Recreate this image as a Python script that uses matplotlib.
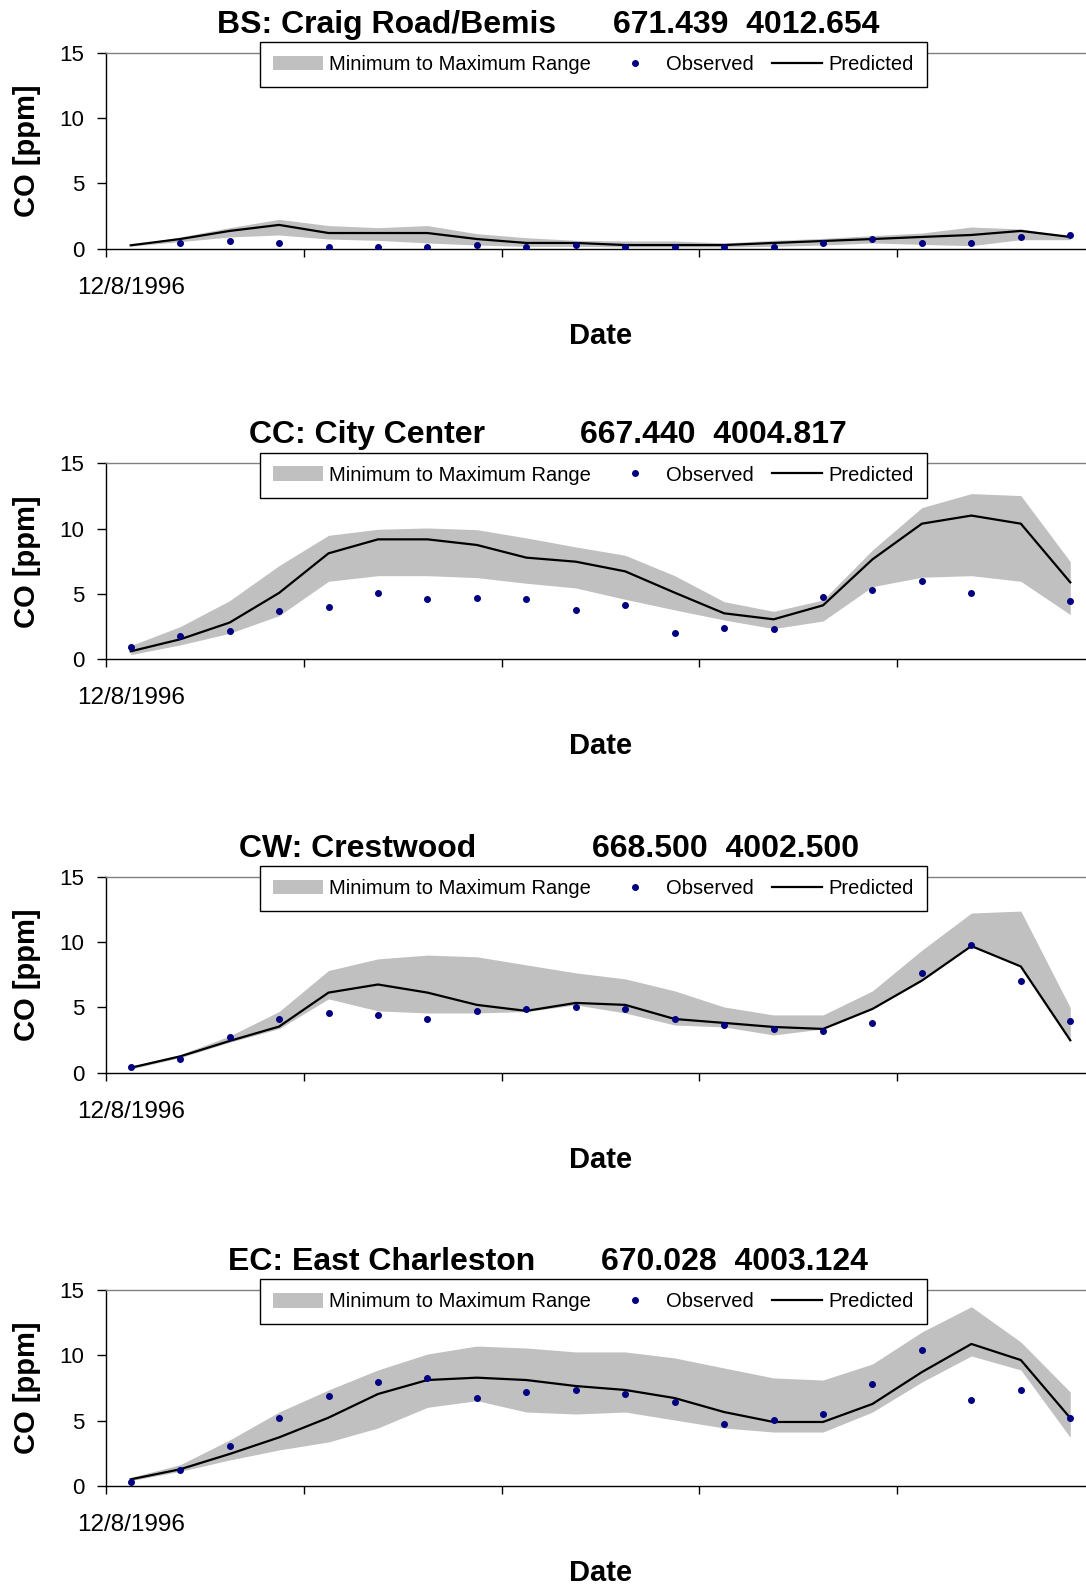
import numpy as np
import matplotlib
matplotlib.use("Agg")
import matplotlib.pyplot as plt
from matplotlib.patches import Patch
from matplotlib.lines import Line2D

plt.rcParams['font.family'] = ['Liberation Sans', 'DejaVu Sans']

nan = np.nan

stations = ['BS: Craig Road/Bemis', 'CC: City Center', 'CW: Crestwood', 'EC: East Charleston']
utm = ['671.439  4012.654', '667.440  4004.817', '668.500  4002.500', '670.028  4003.124']
start_date = '12/8/1996'

# daily CO, ppm (20 days per station)
obs_bs = [nan, 0.44, 0.59, 0.44, 0.13, 0.13, 0.13, 0.28, 0.13, 0.28,
          0.13, 0.13, 0.13, 0.13, 0.44, 0.74, 0.44, 0.44, 0.90, 1.05]
pred_bs = [0.26, 0.74, 1.36, 1.82, 1.20, 1.20, 1.20, 0.74, 0.44, 0.44,
           0.28, 0.28, 0.28, 0.44, 0.59, 0.74, 0.90, 1.05, 1.36, 0.90]
max_bs = [0.26, 0.90, 1.61, 2.25, 1.77, 1.61, 1.77, 1.15, 0.84, 0.64,
          0.59, 0.59, 0.44, 0.64, 0.79, 1.00, 1.20, 1.66, 1.51, 0.95]
min_bs = [0.20, 0.54, 0.90, 1.05, 0.74, 0.64, 0.44, 0.28, 0.18, 0.18,
          0.13, 0.13, 0.13, 0.18, 0.28, 0.44, 0.33, 0.23, 0.69, 0.69]

obs_cc = [0.92, 1.81, 2.14, 3.67, 3.98, 5.05, 4.59, 4.72, 4.59, 3.80,
          4.13, 1.99, 2.42, 2.30, 4.74, 5.33, 5.97, 5.05, nan, 4.44]
pred_cc = [0.61, 1.53, 2.81, 5.08, 8.11, 9.18, 9.18, 8.75, 7.78, 7.47,
           6.73, 5.10, 3.52, 3.06, 4.13, 7.65, 10.38, 11.00, 10.38, 5.89]
max_cc = [1.05, 2.50, 4.49, 7.17, 9.49, 9.95, 10.05, 9.92, 9.29, 8.60,
          7.96, 6.40, 4.41, 3.67, 4.54, 8.37, 11.61, 12.68, 12.53, 7.47]
min_cc = [0.36, 1.10, 1.99, 3.34, 5.97, 6.40, 6.40, 6.25, 5.82, 5.46,
          4.59, 3.78, 3.01, 2.35, 2.93, 5.56, 6.28, 6.40, 5.97, 3.42]

obs_cw = [0.43, 1.05, 2.71, 4.11, 4.57, 4.42, 4.11, 4.73, 4.88, 5.03,
          4.88, 4.11, 3.65, 3.35, 3.19, 3.81, 7.64, 9.79, 7.03, 3.96]
pred_cw = [0.38, 1.25, 2.43, 3.53, 6.13, 6.75, 6.13, 5.19, 4.73, 5.34,
           5.19, 4.11, 3.81, 3.50, 3.35, 4.88, 7.05, 9.69, 8.13, 2.48]
max_cw = [0.49, 1.38, 2.81, 4.68, 7.82, 8.71, 9.00, 8.87, 8.25, 7.64,
          7.18, 6.26, 5.03, 4.42, 4.42, 6.26, 9.38, 12.22, 12.37, 4.98]
min_cw = [0.28, 1.15, 2.33, 3.37, 5.65, 4.73, 4.57, 4.57, 4.68, 5.19,
          4.57, 3.65, 3.50, 2.89, 3.35, 4.88, 7.05, 9.69, 8.13, 2.48]

obs_ec = [0.33, 1.25, 3.06, 5.20, 6.89, 7.96, 8.29, 6.73, 7.19, 7.35,
          7.04, 6.43, 4.74, 5.05, 5.54, 7.81, 10.41, 6.58, 7.35, 5.20]
pred_ec = [0.51, 1.28, 2.45, 3.72, 5.23, 7.04, 8.11, 8.29, 8.11, 7.65,
           7.35, 6.73, 5.66, 4.90, 4.90, 6.28, 8.72, 10.87, 9.64, 5.20]
max_ec = [0.66, 1.63, 3.52, 5.66, 7.35, 8.88, 10.10, 10.71, 10.56, 10.26,
          10.26, 9.80, 9.03, 8.27, 8.11, 9.34, 11.79, 13.72, 11.02, 7.19]
min_ec = [0.41, 1.12, 1.99, 2.76, 3.37, 4.44, 6.02, 6.53, 5.66, 5.51,
          5.66, 5.05, 4.44, 4.13, 4.13, 5.66, 7.96, 9.95, 8.88, 3.72]

observed = [obs_bs, obs_cc, obs_cw, obs_ec]
predicted = [pred_bs, pred_cc, pred_cw, pred_ec]
upper = [max_bs, max_cc, max_cw, max_ec]
lower = [min_bs, min_cc, min_cw, min_ec]

W, H = 1086, 1587
fig = plt.figure(figsize=(W / 100, H / 100), dpi=100)

# pixel layout of each panel (top of plot area)
tops = [52.7, 463.3, 876.7, 1290.0]
ax_left, ax_w, ax_h = 106, 989, 196
name_x = [217, 249, 239, 228.5]
utm_x = [613, 580, 592, 601]

for k in range(4):
    ax = fig.add_axes([ax_left / W, 1 - (tops[k] + ax_h) / H, ax_w / W, ax_h / H])
    x = np.arange(len(predicted[k]))

    ax.fill_between(x, lower[k], upper[k], color='#C0C0C0', lw=0, zorder=1)
    ax.plot(x, predicted[k], color='black', lw=1.6, zorder=2)
    ax.plot(x, observed[k], ls='none', marker='o', ms=4, color='#000080', zorder=3)

    ax.set_xlim(-0.5, 19.5)
    ax.set_ylim(0, 15)
    ax.set_yticks([0, 5, 10, 15])
    ax.set_xticks([-0.5, 3.5, 7.5, 11.5, 15.5, 19.5])
    ax.set_xticklabels([])
    ax.tick_params(axis='y', direction='out', length=6.5, width=1, pad=9, labelsize=16)
    ax.tick_params(axis='x', direction='out', length=6, width=1)
    for s in ['left', 'bottom']:
        ax.spines[s].set_color('black')
        ax.spines[s].set_linewidth(1)
    ax.spines['top'].set_color('#808080')
    ax.spines['top'].set_linewidth(1)
    ax.spines['right'].set_visible(False)

    ax.annotate(start_date, xy=(0, 0), xycoords=('data', 'axes fraction'),
                xytext=(0, -45 * 0.72), textcoords='offset points',
                ha='center', va='baseline', fontsize=17.5)
    ax.text(0.5, -95 / ax_h, 'Date', transform=ax.transAxes, ha='center',
            va='baseline', fontsize=21, fontweight='bold')
    ax.text((27 - ax_left) / ax_w, 0.5, 'CO [ppm]', transform=ax.transAxes,
            rotation=90, ha='center', va='center', fontsize=21, fontweight='bold')

    ty = 1 + 20 / ax_h
    ax.text((name_x[k] - ax_left) / ax_w, ty, stations[k], transform=ax.transAxes,
            ha='left', va='baseline', fontsize=23, fontweight='bold')
    ax.text((utm_x[k] - ax_left) / ax_w, ty, utm[k], transform=ax.transAxes,
            ha='left', va='baseline', fontsize=23, fontweight='bold')

    handles = [Patch(facecolor='#C0C0C0', edgecolor='none'),
               Line2D([], [], ls='none', marker='o', ms=4, color='#000080'),
               Line2D([], [], color='black', lw=1.6)]
    leg = ax.legend(handles, ['Minimum to Maximum Range', 'Observed', 'Predicted'],
                    loc='upper left',
                    bbox_to_anchor=((260 - ax_left) / ax_w, 1 + 10.7 / ax_h),
                    ncol=3, fontsize=14.5, frameon=True, fancybox=False,
                    edgecolor='black', framealpha=1, borderaxespad=0,
                    borderpad=0.65, handlelength=2.5, handleheight=0.75,
                    handletextpad=0.3, columnspacing=0.9)
    leg.get_frame().set_linewidth(1)
    leg.set_zorder(5)

fig.savefig('out.png', dpi=100)
